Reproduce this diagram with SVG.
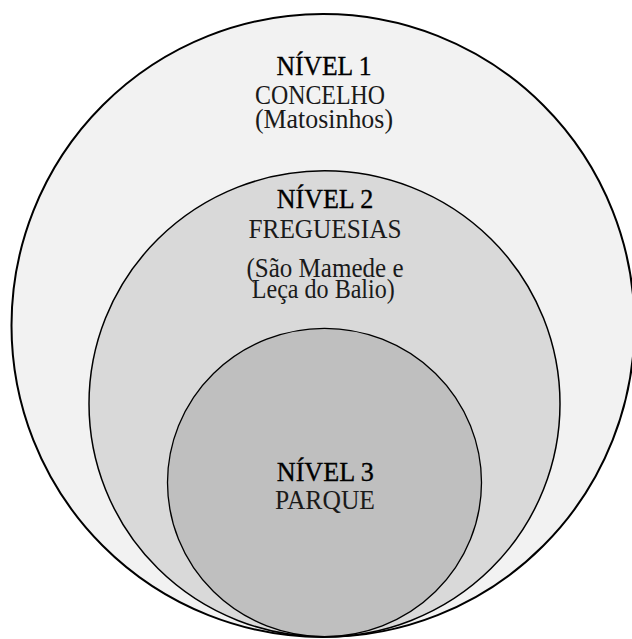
<svg xmlns="http://www.w3.org/2000/svg" width="632" height="639" viewBox="0 0 632 639">
<style>
.ring{stroke:#000;}
.t{font-family:"Liberation Serif","DejaVu Serif",serif;font-size:27px;fill:#1a1a1a;text-anchor:middle;}
.h{fill:#000;stroke:#000;stroke-width:0.35px;}
</style>
<rect width="632" height="639" fill="#ffffff"/>
<g id="nivel1">
<circle class="ring" cx="323" cy="325.5" r="311.5" fill="#f2f2f2" stroke-width="2"/>
<text class="t h" x="324" y="75" textLength="95" lengthAdjust="spacingAndGlyphs">NÍVEL 1</text>
<text class="t" x="320" y="104" textLength="130" lengthAdjust="spacingAndGlyphs">CONCELHO</text>
<text class="t" x="324" y="128" textLength="138" lengthAdjust="spacingAndGlyphs">(Matosinhos)</text>
</g>
<g id="nivel2">
<ellipse class="ring" cx="324.5" cy="403.8" rx="235.5" ry="233" fill="#d9d9d9" stroke-width="1.5"/>
<text class="t h" x="325" y="208.3" textLength="96.7" lengthAdjust="spacingAndGlyphs">NÍVEL 2</text>
<text class="t" x="325" y="238.3" textLength="153" lengthAdjust="spacingAndGlyphs">FREGUESIAS</text>
<text class="t" x="325" y="276.7" textLength="157" lengthAdjust="spacingAndGlyphs">(São Mamede e</text>
<text class="t" x="323.3" y="298.3" textLength="143" lengthAdjust="spacingAndGlyphs">Leça do Balio)</text>
</g>
<g id="nivel3">
<ellipse class="ring" cx="324.5" cy="482.5" rx="157" ry="154.2" fill="#bfbfbf" stroke-width="1.3"/>
<text class="t h" x="325.3" y="480.7" textLength="97" lengthAdjust="spacingAndGlyphs">NÍVEL 3</text>
<text class="t" x="325" y="509.3" textLength="100" lengthAdjust="spacingAndGlyphs">PARQUE</text>
</g>
</svg>
